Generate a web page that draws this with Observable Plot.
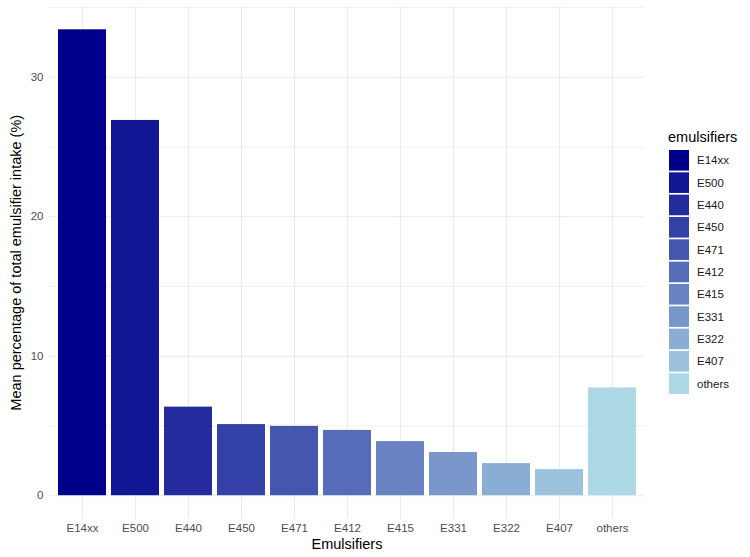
<!DOCTYPE html>
<html><head><meta charset="utf-8">
<script src="https://cdn.jsdelivr.net/npm/d3@7"></script>
<script src="https://cdn.jsdelivr.net/npm/@observablehq/plot@0.6"></script>
<style>
body{margin:0;background:#fff;font-family:"Liberation Sans",Arial,sans-serif}
#wrap{position:relative;width:750px;height:557px}
#legend{position:absolute;left:660px;top:120px}
</style>
</head><body><div id="wrap"></div>
<script>
const categories = ["E14xx","E500","E440","E450","E471","E412","E415","E331","E322","E407","others"];
const values = [33.4, 26.9, 6.35, 5.1, 4.97, 4.68, 3.88, 3.1, 2.3, 1.87, 7.73];
const yTicks = [0, 10, 20, 30];
const yMinor = [5, 15, 25, 35];
const xTitle = "Emulsifiers";
const yTitle = "Mean percentage of total emulsifier intake (%)";
const legendTitle = "emulsifiers";

const colors = d3.quantize(d3.interpolateRgb("#00008B", "#ADD8E6"), categories.length);
const data = categories.map((c, i) => ({emulsifier: c, value: values[i]}));
const ymax = d3.max(values) * 1.05, ymin = -d3.max(values) * 0.05;

const font = '"Liberation Sans", Arial, sans-serif';
const plot = Plot.plot({
  width: 750, height: 557,
  marginLeft: 49, marginRight: 106, marginTop: 6, marginBottom: 38.5,
  style: {fontFamily: font, fontSize: "11.5px", color: "#4D4D4D", background: "#fff"},
  x: {domain: categories, paddingInner: 0.1, paddingOuter: 0.15},
  y: {domain: [ymin, ymax]},
  color: {domain: categories, range: colors},
  marks: [
    Plot.gridY(yMinor, {stroke: "#EBEBEB", strokeOpacity: 1, strokeWidth: 0.7}),
    Plot.gridY(yTicks, {stroke: "#EBEBEB", strokeOpacity: 1, strokeWidth: 1.1}),
    Plot.gridX({stroke: "#EBEBEB", strokeOpacity: 1, strokeWidth: 1.1}),
    Plot.barY(data, {x: "emulsifier", y: "value", fill: "emulsifier"}),
    Plot.axisX({tickSize: 0, tickPadding: 5, label: null, fill: "#4D4D4D"}),
    Plot.axisY(yTicks, {tickSize: 0, tickPadding: 6, label: null, fill: "#4D4D4D"}),
    Plot.text([xTitle], {frameAnchor: "bottom", dy: 25, fill: "black", fontSize: 14.5, lineAnchor: "middle", textAnchor: "middle"}),
    Plot.text([yTitle], {frameAnchor: "left", dx: -33, rotate: -90, fill: "black", fontSize: 14.5, lineAnchor: "middle", textAnchor: "middle"})
  ]
});
const wrap = document.getElementById("wrap");
wrap.appendChild(plot);

const color = plot.scale("color");
const step = 22.33, keyH = 20.6, keyW = 20;
const lg = d3.select(wrap).append("svg").attr("id", "legend")
  .attr("width", 90).attr("height", 290)
  .style("font-family", font);
lg.append("text").attr("x", 8).attr("y", 17).attr("dy", "0.35em")
  .attr("font-size", 14.5).attr("fill", "black").text(legendTitle);
const items = lg.selectAll("g.k").data(categories).join("g")
  .attr("transform", (d, i) => `translate(9,${30 + i * step})`);
items.append("rect").attr("width", keyW).attr("height", keyH).attr("fill", d => color.apply(d));
items.append("text").attr("x", 28).attr("y", keyH / 2).attr("dy", "0.35em")
  .attr("font-size", 11.5).attr("fill", "#1a1a1a").text(d => d);
</script>
</body></html>
